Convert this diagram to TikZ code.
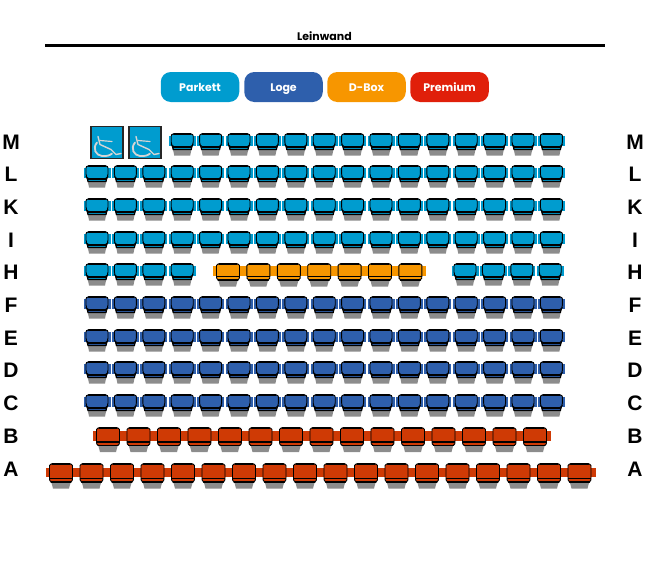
\documentclass[tikz,border=0pt]{standalone}
\usepackage{fontspec}
\setmainfont{Liberation Sans}
\newfontfamily\btnfont{Poppins}
\usetikzlibrary{calc}
\definecolor{parkett}{HTML}{009CCF}
\definecolor{loge}{HTML}{2E5FAC}
\definecolor{dbox}{HTML}{F79600}
\definecolor{premium}{HTML}{E01F0A}
\definecolor{seatred}{HTML}{CF3A05}
\definecolor{chairgrey}{HTML}{D5D5D5}
\definecolor{shadowgrey}{HTML}{8C8C8C}
\tikzset{
  rowlabel/.style={font=\bfseries\fontsize{21}{21}\selectfont,text=black,inner sep=0pt},
  btn/.style={fill=#1,rounded corners=10pt,minimum width=78.5pt,minimum height=30pt,inner sep=0pt,
    text=white,text height=10pt,text depth=2pt,font=\btnfont\bfseries\fontsize{11}{11}\selectfont}
}
% x y colour (y is the top of the seat)
\newcommand{\seat}[3]{
  \fill[shadowgrey] (#1-9.5,#2+15) -- (#1+9.5,#2+15) -- (#1+8,#2+22.5) -- (#1-8,#2+22.5) -- cycle;
  \draw[fill=#3,line width=1.2pt,line cap=round] (#1-10,#2+12) -- (#1-9,#2+16.5) -- (#1+9,#2+16.5) -- (#1+10,#2+12);
  \draw[fill=#3,line width=.9pt,rounded corners=2pt] (#1-11,#2+11) -- (#1-11,#2+1) -- (#1+11,#2+1) -- (#1+11,#2+11) -- (#1+9.5,#2+14) -- (#1-9.5,#2+14) -- cycle;
  \draw[line width=1.5pt,line cap=round] (#1-8.5,#2+1) -- (#1+8.5,#2+1);
  \draw[line width=1.1pt] (#1-9,#2+14) -- (#1+9,#2+14);
}
% x y colour height
\newcommand{\wideseat}[4]{
  \fill[shadowgrey] (#1-10,#2+#4-1) -- (#1+10,#2+#4-1) -- (#1+8,#2+#4+6.5) -- (#1-8,#2+#4+6.5) -- cycle;
  \draw[fill=#3,line width=.9pt,rounded corners=1.5pt] (#1-11,#2+#4) -- (#1-11.5,#2+#4-3) -- (#1-11.5,#2+1) -- (#1+11.5,#2+1) -- (#1+11.5,#2+#4-3) -- (#1+11,#2+#4) -- cycle;
  \draw[line width=1.4pt,line cap=round] (#1-9,#2+1) -- (#1+9,#2+1);
  \draw[line width=1.5pt] (#1-11.5,#2+#4-3.5) -- (#1+11.5,#2+#4-3.5);
  \draw[line width=1.3pt,line cap=round] (#1-10,#2+#4) -- (#1+10,#2+#4);
}
\newcommand{\chair}[2]{
  \draw[fill=parkett,line width=1.2pt,draw=black!85] (#1,#2) rectangle (#1+32,#2+32);
  \draw[chairgrey,line width=1.4pt,line cap=round,line join=round] (#1+7,#2+10) -- (#1+9,#2+18) -- (#1+20,#2+23) -- (#1+25,#2+28) -- (#1+30,#2+27);
  \draw[chairgrey,line width=1.2pt,line cap=round] (#1+9,#2+14) -- (#1+21,#2+15);
  \draw[chairgrey,line width=1.8pt,line cap=round] (#1+6,#2+16) .. controls (#1+1,#2+22) and (#1+5,#2+29) .. (#1+11,#2+29.5) .. controls (#1+15,#2+30) and (#1+19,#2+29) .. (#1+21,#2+27);
}
\begin{document}
\begin{tikzpicture}[x=1pt,y=-1pt]
  \useasboundingbox (0,0) rectangle (650,562);
  \node[inner sep=0pt,font=\btnfont\bfseries\fontsize{11}{11}\selectfont] (leinwand) at (324.5,36) {Leinwand};
  \coordinate (screenl) at (45,45.5);
  \coordinate (screenr) at (605,45.5);
  \draw[line width=2.2pt] (screenl) -- (screenr);
  \node[btn=parkett] (parkett) at (200,87) {Parkett};
  \node[btn=loge] (loge) at (283.5,87) {Loge};
  \node[btn=dbox] (dbox) at (366.5,87) {D-Box};
  \node[btn=premium] (premium) at (449.5,87) {Premium};
  \foreach \rowname/\rowy in {M/142,L/174,K/207,I/240,H/272,F/305,E/338,D/370,C/403,B/436,A/469}{
    \node[rowlabel] (left\rowname) at (11,\rowy) {\rowname};
    \node[rowlabel] (right\rowname) at (635,\rowy) {\rowname};
  }
  \chair{91}{126.5}
  \chair{129}{126.5}
  \foreach \i in {3,...,16}{
    \pgfmathsetmacro{\sx}{97+28.4*\i}
    \fill[parkett] (\sx-13.5,136) rectangle (\sx+13.5,146);
    \seat{\sx}{133}{parkett}
  }
  \foreach \rowy in {165,198,231}{
    \foreach \i in {0,...,16}{
      \pgfmathsetmacro{\sx}{97+28.4*\i}
      \fill[parkett] (\sx-13.5,\rowy+3) rectangle (\sx+13.5,\rowy+13);
      \seat{\sx}{\rowy}{parkett}
    }
  }
  \foreach \sx in {97,125.4,153.8,182.2,465,493.4,521.8,550.2}{
    \fill[parkett] (\sx-13.5,266) rectangle (\sx+13.5,276);
    \seat{\sx}{263}{parkett}
  }
  \fill[dbox] (213,266) rectangle (426,276);
  \foreach \i in {0,...,6}{
    \pgfmathsetmacro{\sx}{228+30.4*\i}
    \wideseat{\sx}{263}{dbox}{17}
  }
  \foreach \rowy in {296,329,361,394}{
    \foreach \i in {0,...,16}{
      \pgfmathsetmacro{\sx}{97+28.4*\i}
      \fill[loge] (\sx-13.5,\rowy+3) rectangle (\sx+13.5,\rowy+13);
      \seat{\sx}{\rowy}{loge}
    }
  }
  \fill[seatred] (93,431) rectangle (551,441);
  \foreach \i in {0,...,14}{
    \pgfmathsetmacro{\sx}{108+30.5*\i}
    \wideseat{\sx}{427}{seatred}{18.5}
  }
  \fill[seatred] (46,467.5) rectangle (596,477);
  \foreach \i in {0,...,17}{
    \pgfmathsetmacro{\sx}{61+30.5*\i}
    \wideseat{\sx}{463}{seatred}{19}
  }
\end{tikzpicture}
\end{document}
